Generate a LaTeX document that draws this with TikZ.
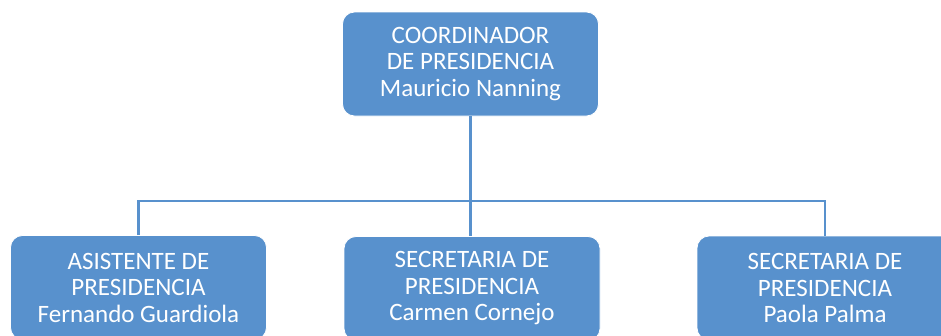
\documentclass[tikz,border=0pt]{standalone}
\usepackage{fontspec}
\setmainfont{Carlito}
\definecolor{boxblue}{HTML}{5891CD}
\definecolor{lineblue}{HTML}{5891CD}
\begin{document}
\begin{tikzpicture}[x=1pt,y=-1pt,
  orgbox/.style={draw=white, line width=0.8pt, fill=boxblue, rounded corners=12pt,
    minimum width=256pt, minimum height=104pt, inner sep=0pt, align=center,
    text=white, font=\fontsize{25}{26.5}\selectfont},
  conn/.style={draw=lineblue, line width=2.5pt}]
\useasboundingbox (0,0) rectangle (941,335);
\clip (0,0) rectangle (941,335);
\node[orgbox] (top) at (470.5,64) {COORDINADOR\\DE PRESIDENCIA\\Mauricio Nanning};
\node[orgbox] (left) at (138.5,287.5) {ASISTENTE DE\\PRESIDENCIA\\Fernando Guardiola};
\node[orgbox] (mid) at (472,288.5) {SECRETARIA DE\\PRESIDENCIA\\Carmen Cornejo};
\node[orgbox] (right) at (825,288) {SECRETARIA DE\\PRESIDENCIA\\Paola Palma};
\coordinate (bus) at (471,201);
\draw[conn] (top.south) -- (top.south |- mid.north);
\draw[conn] (left.north) |- (bus) -| (right.north);
\end{tikzpicture}
\end{document}
